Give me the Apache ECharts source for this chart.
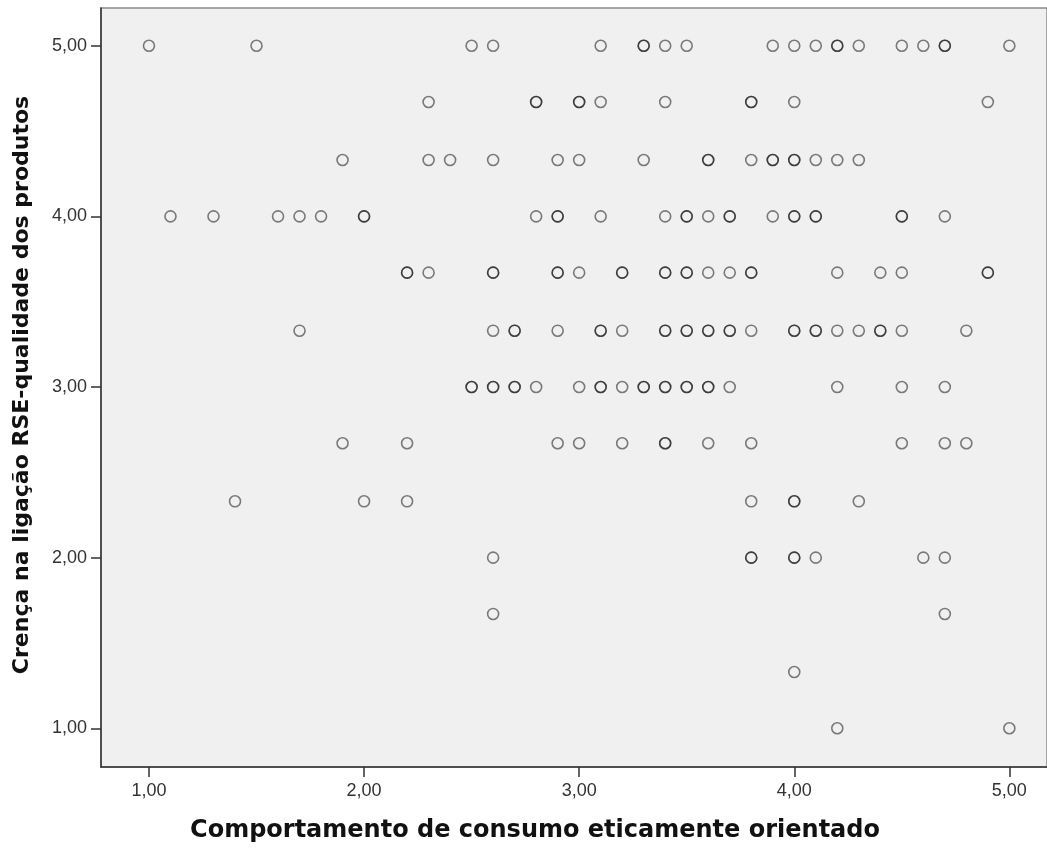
<!DOCTYPE html>
<html>
<head>
<meta charset="utf-8">
<script src="https://cdn.jsdelivr.net/npm/echarts@6/dist/echarts.min.js"></script>
<style>
html,body{margin:0;padding:0;background:#fff;}
#c{width:1047px;height:848px;}
</style>
</head>
<body>
<div id="c"></div>
<script>
// Y levels (Crença na ligação RSE-qualidade dos produtos)
const yLevels = [5.00, 4.67, 4.33, 4.00, 3.67, 3.33, 3.00, 2.67, 2.33, 2.00, 1.67, 1.33, 1.00];
// X values for each y level (repeated values = overlapping observations)
const xAt500 = [1.0,1.5,2.5,2.6,3.1,3.3,3.3,3.4,3.5,3.9,4.0,4.1,4.2,4.2,4.3,4.5,4.6,4.7,4.7,5.0];
const xAt467 = [2.3,2.8,2.8,3.0,3.0,3.1,3.4,3.8,3.8,4.0,4.9];
const xAt433 = [1.9,2.3,2.4,2.6,2.9,3.0,3.3,3.6,3.6,3.8,3.9,3.9,4.0,4.0,4.1,4.2,4.3];
const xAt400 = [1.1,1.3,1.6,1.7,1.8,2.0,2.0,2.8,2.9,2.9,3.1,3.4,3.5,3.5,3.6,3.7,3.7,3.9,4.0,4.0,4.1,4.1,4.5,4.5,4.7];
const xAt367 = [2.2,2.2,2.3,2.6,2.6,2.9,2.9,3.0,3.2,3.2,3.4,3.4,3.5,3.5,3.6,3.7,3.8,3.8,4.2,4.4,4.5,4.9,4.9];
const xAt333 = [1.7,2.6,2.7,2.7,2.9,3.1,3.1,3.2,3.4,3.4,3.5,3.5,3.6,3.6,3.7,3.7,3.8,4.0,4.0,4.1,4.1,4.2,4.3,4.4,4.4,4.5,4.8];
const xAt300 = [2.5,2.5,2.6,2.6,2.7,2.7,2.8,3.0,3.1,3.1,3.2,3.3,3.3,3.4,3.4,3.5,3.5,3.6,3.6,3.7,4.2,4.5,4.7];
const xAt267 = [1.9,2.2,2.9,3.0,3.2,3.4,3.4,3.6,3.8,4.5,4.7,4.8];
const xAt233 = [1.4,2.0,2.2,3.8,4.0,4.0,4.3];
const xAt200 = [2.6,3.8,3.8,4.0,4.0,4.1,4.6,4.7];
const xAt167 = [2.6,4.7];
const xAt133 = [4.0];
const xAt100 = [4.2,5.0];
const tickValues = [1, 2, 3, 4, 5];
const xTitle = 'Comportamento de consumo eticamente orientado';
const yTitle = 'Crença na ligação RSE-qualidade dos produtos';

const rows = [xAt500,xAt467,xAt433,xAt400,xAt367,xAt333,xAt300,xAt267,xAt233,xAt200,xAt167,xAt133,xAt100];
const points = [];
rows.forEach((xs, i) => xs.forEach(x => points.push([x, yLevels[i]])));

const fmt = v => v.toFixed(2).replace('.', ',');
const font = '"Liberation Sans", Arial, sans-serif';
const xTitleFont = 'bold 24px "DejaVu Sans", Verdana, sans-serif';
const yTitleFont = 'bold 22px "DejaVu Sans", Verdana, sans-serif';

const chart = echarts.init(document.getElementById('c'));
chart.setOption({
  animation: false,
  backgroundColor: '#ffffff',
  grid: {
    left: 101, right: 0, top: 8, bottom: 81,
    show: true, backgroundColor: '#f0f0f0', borderColor: '#8a8a8a', borderWidth: 1.5
  },
  xAxis: {
    type: 'value', min: 0.777, max: 5.175,
    splitLine: {show: false},
    axisLine: {show: true, onZero: false, lineStyle: {color: '#333', width: 1.5}},
    axisTick: {show: true, length: 10, customValues: tickValues, lineStyle: {color: '#333', width: 1.5}},
    axisLabel: {customValues: tickValues, formatter: fmt, margin: 15, fontSize: 18, color: '#333', fontFamily: font}
  },
  yAxis: {
    type: 'value', min: 0.773, max: 5.221,
    splitLine: {show: false},
    axisLine: {show: true, onZero: false, lineStyle: {color: '#333', width: 1.5}},
    axisTick: {show: true, length: 10, customValues: tickValues, lineStyle: {color: '#333', width: 1.5}},
    axisLabel: {customValues: tickValues, formatter: fmt, margin: 14, fontSize: 18, color: '#333', fontFamily: font}
  },
  graphic: [
    {type: 'text', x: 535, y: 831, style: {text: xTitle, font: xTitleFont, fill: '#111', align: 'center', verticalAlign: 'middle'}},
    {type: 'text', x: 22, y: 385, rotation: Math.PI/2, style: {text: yTitle, font: yTitleFont, fill: '#111', align: 'center', verticalAlign: 'middle'}}
  ],
  series: [{
    type: 'scatter',
    data: points,
    symbol: 'circle',
    symbolSize: 11,
    itemStyle: {color: 'rgba(0,0,0,0)', borderColor: 'rgba(0,0,0,0.62)', borderWidth: 1.6}
  }]
});
</script>
</body>
</html>
